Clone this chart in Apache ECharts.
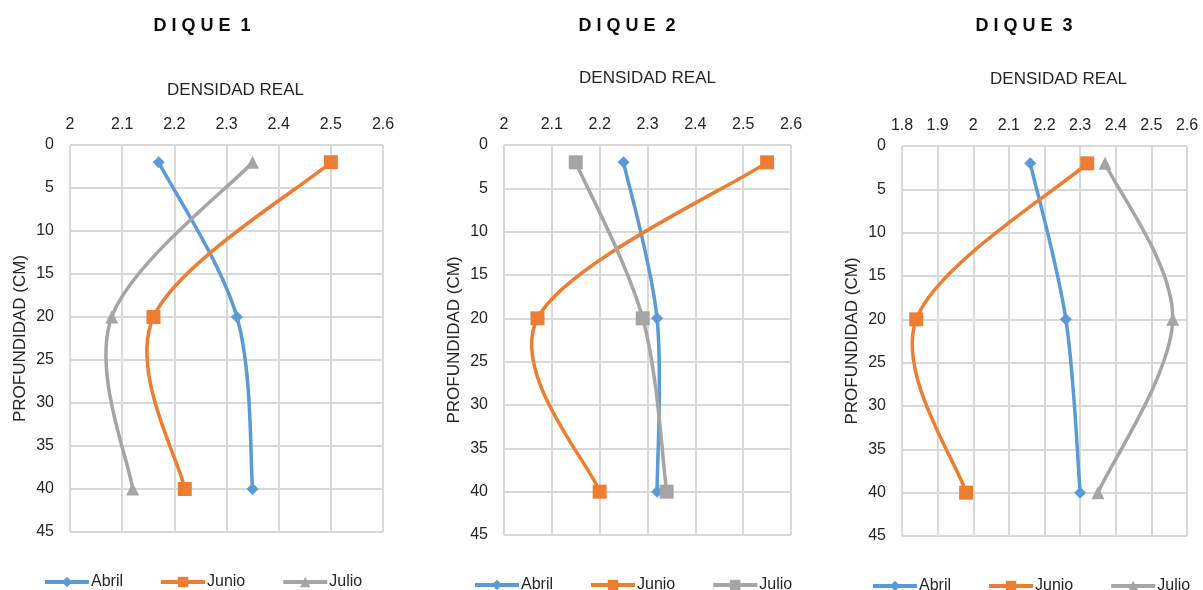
<!DOCTYPE html>
<html>
<head>
<meta charset="utf-8">
<script src="https://cdn.jsdelivr.net/npm/echarts@6/dist/echarts.min.js"></script>
<style>
html,body{margin:0;padding:0;background:#fff;}
#chart{width:1203px;height:590px;}
</style>
</head>
<body>
<div id="chart"></div>
<script>
// ---- data ----
const depths = [2, 20, 40];
const seriesNames = ['Abril', 'Junio', 'Julio'];
const panelTitles = ['D I Q U E  1', 'D I Q U E  2', 'D I Q U E  3'];
const xAxisName = 'DENSIDAD REAL';
const yAxisName = 'PROFUNDIDAD (CM)';

const d1Abril = [2.17, 2.32, 2.35];
const d1Junio = [2.50, 2.16, 2.22];
const d1Julio = [2.35, 2.08, 2.12];

const d2Abril = [2.25, 2.32, 2.32];
const d2Junio = [2.55, 2.07, 2.20];
const d2Julio = [2.15, 2.29, 2.34];

const d3Abril = [2.16, 2.26, 2.30];
const d3Junio = [2.32, 1.84, 1.98];
const d3Julio = [2.37, 2.56, 2.35];

const xMins = [2.0, 2.0, 1.8];
const xMaxs = [2.6, 2.6, 2.6];
const yMin = 0, yMax = 45, yStep = 5, xStep = 0.1;

// ---- layout / style ----
const FONT = "'Liberation Sans', Arial, sans-serif";
const colors = ['#5B9BD5', '#ED7D31', '#A5A5A5'];
const grids = [
  {left: 70, right: 820, top: 145, bottom: 58},
  {left: 504, right: 412, top: 145, bottom: 55},
  {left: 902, right: 16, top: 146, bottom: 54}
];
const titleCenters = [197, 622, 1019];
const xNameGaps = [46, 58, 58];
const xNamePads = [[0, 0, 0, 18], [0, 0, 0, 0], [0, 0, 0, 28]];
const legendLefts = [38, 468, 866];
const legendTops = [569, 572, 573];
const panelData = [
  [d1Abril, d1Junio, d1Julio],
  [d2Abril, d2Junio, d2Julio],
  [d3Abril, d3Junio, d3Julio]
];
const panelSymbols = [
  ['diamond', 'rect', 'triangle'],
  ['diamond', 'rect', 'rect'],
  ['diamond', 'rect', 'triangle']
];
const symbolSizes = {diamond: 12, rect: 14, triangle: 13};

// Smoothed curve (spreadsheet-style cardinal spline) through the points,
// positioned with the chart's own coordinate system via api.coord.
function makeCurveRenderer(vals, color) {
  return function (params, api) {
    if (params.dataIndex !== 0) return null;
    const P = vals.map((v, i) => api.coord([v, depths[i]]));
    const n = P.length;
    const tan = P.map((p, i) => {
      const a = P[Math.max(i - 1, 0)], b = P[Math.min(i + 1, n - 1)];
      return [(b[0] - a[0]) / 6, (b[1] - a[1]) / 6];
    });
    let d = 'M' + P[0][0] + ' ' + P[0][1];
    for (let i = 0; i < n - 1; i++) {
      const c1 = [P[i][0] + tan[i][0], P[i][1] + tan[i][1]];
      const c2 = [P[i + 1][0] - tan[i + 1][0], P[i + 1][1] - tan[i + 1][1]];
      d += ' C' + c1[0] + ' ' + c1[1] + ' ' + c2[0] + ' ' + c2[1] + ' ' + P[i + 1][0] + ' ' + P[i + 1][1];
    }
    return {
      type: 'path',
      shape: {pathData: d},
      style: {stroke: color, lineWidth: 3.5, fill: 'none', lineCap: 'round', lineJoin: 'round'}
    };
  };
}

const titles = [], xAxes = [], yAxes = [], series = [], legends = [];
for (let p = 0; p < 3; p++) {
  titles.push({
    text: panelTitles[p],
    left: titleCenters[p], top: 12, textAlign: 'center',
    textStyle: {fontFamily: FONT, fontSize: 18, fontWeight: 'bold', color: '#0D0D0D'}
  });
  xAxes.push({
    type: 'value', gridIndex: p, position: 'top',
    min: xMins[p], max: xMaxs[p], interval: xStep,
    name: xAxisName, nameLocation: 'middle', nameGap: xNameGaps[p],
    nameTextStyle: {fontFamily: FONT, fontSize: 17, color: '#262626', padding: xNamePads[p]},
    axisLine: {show: false}, axisTick: {show: false},
    axisLabel: {fontFamily: FONT, fontSize: 16, color: '#262626', margin: 12},
    splitLine: {show: true, lineStyle: {color: '#D9D9D9', width: 2}}
  });
  yAxes.push({
    type: 'value', gridIndex: p, inverse: true,
    min: yMin, max: yMax, interval: yStep,
    name: yAxisName, nameLocation: 'middle', nameGap: 41,
    nameTextStyle: {fontFamily: FONT, fontSize: 17, color: '#262626'},
    axisLine: {show: false}, axisTick: {show: false},
    axisLabel: {fontFamily: FONT, fontSize: 16, color: '#262626', margin: 16},
    splitLine: {show: true, lineStyle: {color: '#D9D9D9', width: 2}}
  });
  const legendData = [];
  for (let s = 0; s < 3; s++) {
    // distinct names per panel so each panel's legend shows its own marker
    const nm = seriesNames[s] + (p === 1 && s === 2 ? ' ' : '');
    legendData.push(nm);
    const vals = panelData[p][s];
    const sym = panelSymbols[p][s];
    const pts = vals.map((v, i) => [v, depths[i]]);
    series.push({
      type: 'custom', xAxisIndex: p, yAxisIndex: p,
      data: pts, renderItem: makeCurveRenderer(vals, colors[s]),
      silent: true, z: 2 + s * 2
    });
    series.push({
      name: nm, type: 'line', xAxisIndex: p, yAxisIndex: p,
      data: pts,
      symbol: sym, symbolSize: symbolSizes[sym],
      lineStyle: {color: colors[s], width: 3.5, opacity: 0},
      itemStyle: {color: colors[s]},
      emphasis: {disabled: true},
      z: 3 + s * 2
    });
  }
  legends.push({
    data: legendData,
    left: legendLefts[p], top: legendTops[p],
    orient: 'horizontal',
    itemWidth: 44, itemHeight: 13, itemGap: 36,
    lineStyle: {width: 4, opacity: 1},
    textStyle: {fontFamily: FONT, fontSize: 16, color: '#262626', padding: [0, 0, 0, -3]},
    selectedMode: false
  });
}

const chart = echarts.init(document.getElementById('chart'), null, {renderer: 'canvas'});
chart.setOption({
  animation: false,
  backgroundColor: '#ffffff',
  title: titles,
  grid: grids,
  xAxis: xAxes,
  yAxis: yAxes,
  legend: legends,
  series: series
});
</script>
</body>
</html>
